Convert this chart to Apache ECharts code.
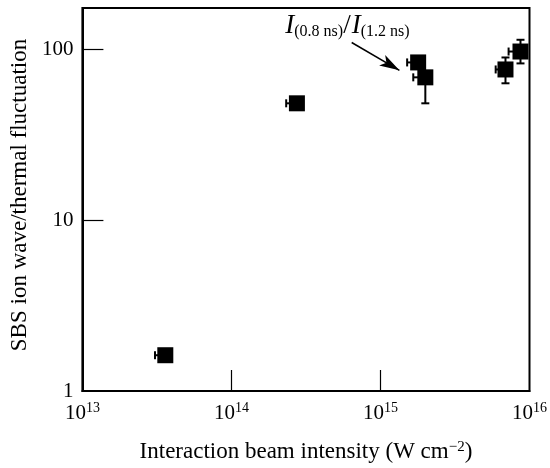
<!DOCTYPE html>
<html><head><meta charset="utf-8">
<script src="https://cdn.jsdelivr.net/npm/echarts@6/dist/echarts.min.js"></script>
<style>html,body{margin:0;padding:0;background:#fff}#c{width:550px;height:468px}</style>
</head><body><div id="c"></div>
<script>
// Data
const intensity     = [3.6e13, 2.75e14, 1.79e15, 2.0e15, 6.9e15, 8.7e15];
const ratio         = [1.62, 48.4, 84, 68.7, 76.4, 97.3];
const intensityLow  = [3.07e13, 2.33e14, 1.51e15, 1.66e15, 5.93e15, 7.24e15];
const ratioLow      = [1.62, 48.4, 84, 48.4, 63.4, 82.9];
const ratioHigh     = [1.62, 48.4, 84, 68.7, 89.8, 114];
const xTickValues   = [1e13, 1e14, 1e15, 1e16];
const yTickValues   = [1, 10, 100];
const annotationPos = [6.0e14, 136];
const arrowFrom     = [6.41e14, 109.9];
const arrowTo       = [1.34e15, 75.5];

const FONT = 'Liberation Serif';
const chart = echarts.init(document.getElementById('c'), null, {renderer: 'canvas'});

const points = intensity.map((x, i) => [x, ratio[i]]);
const errData = intensity.map((x, i) => [x, ratio[i], intensityLow[i], ratioLow[i], ratioHigh[i]]);

chart.setOption({
  animation: false,
  backgroundColor: '#fff',
  grid: {left: 81, right: 19, top: 8, bottom: 76, show: true, borderColor: '#000', borderWidth: 2, containLabel: false},
  xAxis: {
    type: 'log', logBase: 10, min: 1e13, max: 1e16,
    name: 'Interaction beam intensity (W cm{sup|\u22122})',
    nameLocation: 'middle', nameGap: 49,
    nameTextStyle: {fontFamily: FONT, fontSize: 23, color: '#000',
      rich: {sup: {fontFamily: FONT, fontSize: 15, verticalAlign: 'top', lineHeight: 14, color: '#000'}}},
    axisLine: {show: true, lineStyle: {color: '#000', width: 2}},
    axisTick: {show: true, inside: true, length: 21, lineStyle: {color: '#000', width: 1.2}, customValues: [1e14, 1e15]},
    axisLabel: {
      customValues: xTickValues,
      margin: 10,
      formatter: v => '{b|10}{s|' + Math.round(Math.log10(v)) + '}',
      rich: {
        b: {fontFamily: FONT, fontSize: 21, lineHeight: 24, color: '#000'},
        s: {fontFamily: FONT, fontSize: 14, lineHeight: 14, verticalAlign: 'top', color: '#000'}
      }
    },
    splitLine: {show: false}
  },
  yAxis: {
    type: 'log', logBase: 10, min: 1, max: 175,
    name: 'SBS ion wave/thermal fluctuation',
    nameLocation: 'middle', nameGap: 48,
    nameTextStyle: {fontFamily: FONT, fontSize: 23, color: '#000', padding: [0, 0, 0, 9]},
    axisLine: {show: true, lineStyle: {color: '#000', width: 2}},
    axisTick: {show: true, inside: true, length: 21, lineStyle: {color: '#000', width: 1.2}, customValues: [10, 100]},
    axisLabel: {customValues: yTickValues, margin: 9, fontFamily: FONT, fontSize: 21, color: '#000',
      formatter: v => String(Math.round(v))},
    splitLine: {show: false}
  },
  series: [
    {
      type: 'custom',
      data: errData,
      encode: {x: [0, 2], y: [1, 3, 4]},
      z: 2,
      renderItem: (params, api) => {
        const x = api.value(0), y = api.value(1), xl = api.value(2), yl = api.value(3), yh = api.value(4);
        const c = api.coord([x, y]);
        const style = {stroke: '#000', lineWidth: 2};
        const children = [];
        const cap = 4;
        if (xl < x) {
          const l = api.coord([xl, y]);
          children.push({type: 'line', shape: {x1: l[0], y1: l[1], x2: c[0], y2: c[1]}, style});
          children.push({type: 'line', shape: {x1: l[0], y1: l[1] - cap, x2: l[0], y2: l[1] + cap}, style});
        }
        if (yl < y) {
          const b = api.coord([x, yl]);
          children.push({type: 'line', shape: {x1: c[0], y1: c[1], x2: b[0], y2: b[1]}, style});
          children.push({type: 'line', shape: {x1: b[0] - cap, y1: b[1], x2: b[0] + cap, y2: b[1]}, style});
        }
        if (yh > y) {
          const t = api.coord([x, yh]);
          children.push({type: 'line', shape: {x1: c[0], y1: c[1], x2: t[0], y2: t[1]}, style});
          children.push({type: 'line', shape: {x1: t[0] - cap, y1: t[1], x2: t[0] + cap, y2: t[1]}, style});
        }
        return {type: 'group', children};
      }
    },
    {
      type: 'scatter',
      data: points,
      symbol: 'rect',
      symbolSize: 16,
      z: 3,
      itemStyle: {color: '#000', opacity: 1},
      markPoint: {
        symbol: 'rect', symbolSize: 1,
        itemStyle: {color: 'rgba(0,0,0,0)'},
        data: [{
          coord: annotationPos,
          label: {
            show: true, position: 'inside',
            formatter: '{i|I}{s|(0.8 ns)}{sl|/}{i|I}{s|(1.2 ns)}',
            rich: {
              i: {fontFamily: FONT, fontStyle: 'italic', fontSize: 27, lineHeight: 26, verticalAlign: 'bottom', color: '#000'},
              sl: {fontFamily: FONT, fontSize: 27, lineHeight: 26, verticalAlign: 'bottom', color: '#000', padding: [0, 1, 0, 0]},
              s: {fontFamily: FONT, fontSize: 16, lineHeight: 2, verticalAlign: 'bottom', color: '#000'}
            }
          }
        }]
      },
      markLine: {
        silent: true,
        symbol: ['none', 'arrow'],
        symbolSize: [9, 20],
        lineStyle: {color: '#000', width: 1.5, type: 'solid'},
        label: {show: false},
        data: [[{coord: arrowFrom}, {coord: arrowTo}]]
      }
    }
  ]
});
</script>
</body></html>
